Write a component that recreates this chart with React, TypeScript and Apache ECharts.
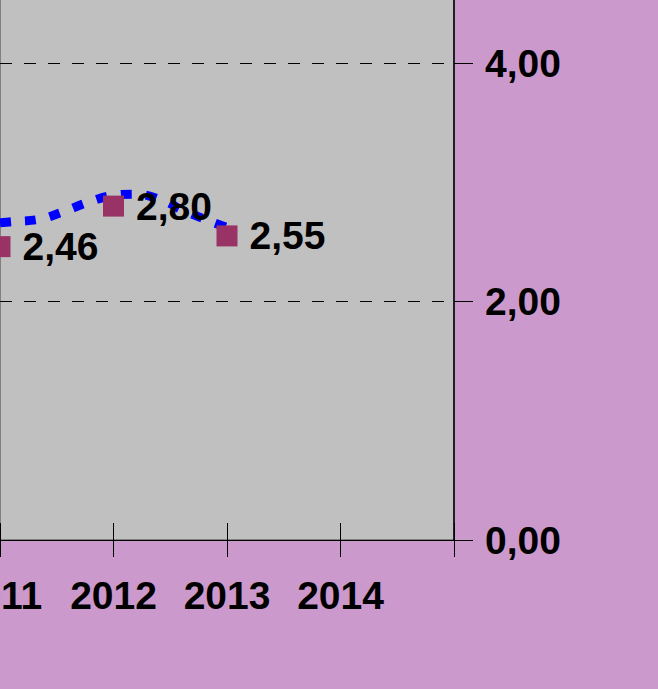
import React, { useEffect, useRef } from "react";
import * as echarts from "echarts";

const years = [2011, 2012, 2013];
const values = [2.46, 2.8, 2.55];
const trendX = [2011.0, 2011.12, 2011.35, 2011.55, 2011.77, 2012.0, 2012.2, 2012.45, 2012.6, 2012.83, 2013.0];
const trendY = [2.66, 2.67, 2.69, 2.75, 2.83, 2.89, 2.9, 2.84, 2.77, 2.68, 2.62];
const xMin = 2011;
const xMax = 2015;
const yMin = 0;
const yMax = 6;
const yVisibleLabels = [0, 2, 4];

const FONT = "'Liberation Sans', Arial, sans-serif";
const fmt = (v: number) => v.toFixed(2).replace(".", ",");

export default function App() {
  const ref = useRef<HTMLDivElement>(null);
  useEffect(() => {
    if (!ref.current) return;
    const chart = echarts.init(ref.current, null, { renderer: "svg" });
    const labelStyle = { fontFamily: FONT, fontWeight: "bold" as const, fontSize: 39, color: "#000" };
    chart.setOption({
      animation: false,
      backgroundColor: "#CC99CC",
      grid: {
        left: 0,
        right: 204,
        top: -175.5,
        bottom: 149,
        containLabel: false,
        outerBoundsMode: "none",
        show: true,
        backgroundColor: "#C0C0C0",
        borderColor: "#808080",
        borderWidth: 2,
      },
      xAxis: [
        {
          type: "value",
          position: "bottom",
          min: xMin,
          max: xMax,
          interval: 1,
          axisLine: { show: true, lineStyle: { color: "#000", width: 1 } },
          axisTick: { show: true, inside: false, length: 17, lineStyle: { color: "#000", width: 1 } },
          axisLabel: {
            ...labelStyle,
            margin: 36,
            showMinLabel: true,
            showMaxLabel: true,
            formatter: (v: number) => (v === xMax ? "" : String(v)),
          },
          splitLine: { show: false },
        },
        {
          type: "value",
          position: "bottom",
          min: xMin,
          max: xMax,
          interval: 1,
          axisLine: { show: false },
          axisTick: { show: true, inside: true, length: 17, lineStyle: { color: "#000", width: 1 } },
          axisLabel: { show: false },
          splitLine: { show: false },
        },
      ],
      yAxis: {
        type: "value",
        position: "right",
        min: yMin,
        max: yMax,
        interval: 2,
        axisLine: { show: true, lineStyle: { color: "#000", width: 1.5 } },
        axisTick: { show: true, inside: false, length: 19, lineStyle: { color: "#000", width: 1 } },
        axisLabel: {
          ...labelStyle,
          margin: 31,
          formatter: (v: number) => (yVisibleLabels.indexOf(v) >= 0 ? fmt(v) : ""),
        },
        splitLine: { show: true, lineStyle: { color: "#000", width: 1, type: [12, 12] } },
      },
      series: [
        {
          type: "line",
          xAxisIndex: 0,
          data: trendX.map((x, i) => [x, trendY[i]]),
          smooth: 0.4,
          showSymbol: false,
          symbol: "none",
          lineStyle: { color: "#0000FF", width: 9, type: [11, 14], cap: "butt" },
          silent: true,
          z: 2,
        },
        {
          type: "scatter",
          xAxisIndex: 0,
          data: years.map((x, i) => [x, values[i]]),
          symbol: "rect",
          symbolSize: 21,
          itemStyle: { color: "#993366", opacity: 1 },
          label: {
            show: true,
            position: "right",
            distance: 12,
            opacity: 1,
            ...labelStyle,
            formatter: (p: any) => fmt(p.value[1]),
          },
          z: 3,
        },
      ],
    });
    return () => chart.dispose();
  }, []);
  return (
    <div
      ref={ref}
      style={{ position: "absolute", left: 0, top: 0, width: 658, height: 689 }}
    />
  );
}
